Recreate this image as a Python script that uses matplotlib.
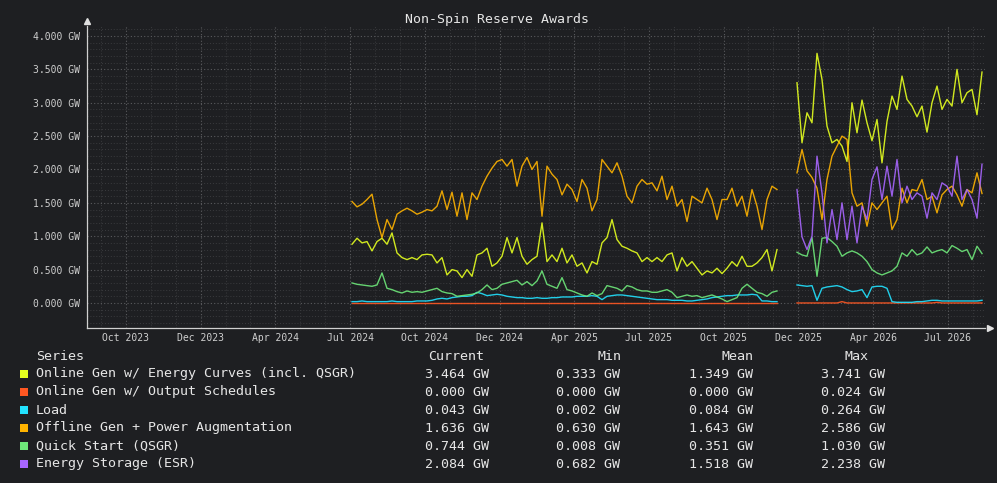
import matplotlib
matplotlib.use("Agg")
import matplotlib.pyplot as plt
import numpy as np

# time index of each sample (one sample ~ 5 px of the original graph)
t_seg1 = np.arange(0, 86)
t_seg2 = np.arange(89, 127)

tick_labels = ["Oct 2023", "Dec 2023", "Apr 2024", "Jul 2024", "Oct 2024", "Dec 2024",
               "Apr 2025", "Jul 2025", "Oct 2025", "Dec 2025", "Apr 2026", "Jul 2026"]

# GW values, first segment (Jul 2024 .. Nov 2025)
energy_curves_1 = [0.88, 0.97, 0.90, 0.92, 0.78, 0.92, 0.97, 0.88, 1.05, 0.75, 0.68, 0.65, 0.68, 0.65,
                   0.72, 0.73, 0.72, 0.60, 0.68, 0.42, 0.50, 0.48, 0.38, 0.50, 0.40, 0.72, 0.75, 0.82,
                   0.55, 0.60, 0.70,
                   0.98, 0.75, 0.98, 0.70, 0.58, 0.65, 0.70, 1.20, 0.62, 0.72, 0.62, 0.82, 0.60, 0.72,
                   0.55, 0.60, 0.45, 0.62, 0.58, 0.90, 0.98, 1.25, 0.95, 0.85, 0.82, 0.78, 0.75, 0.62,
                   0.68,
                   0.62, 0.68, 0.62, 0.72, 0.75, 0.48, 0.68, 0.55, 0.62, 0.52, 0.42, 0.48, 0.45, 0.52,
                   0.44, 0.52, 0.62, 0.55, 0.70, 0.55, 0.55, 0.60, 0.68, 0.80, 0.48, 0.80]
output_sched_1 = [0.0] * 86
load_1 = [0.02, 0.02, 0.03, 0.02, 0.02, 0.02, 0.02, 0.02, 0.03, 0.02, 0.02, 0.02, 0.02, 0.03,
          0.03, 0.03, 0.04, 0.06, 0.07, 0.06, 0.08, 0.09, 0.10, 0.10, 0.11, 0.16, 0.14, 0.11,
          0.12, 0.13, 0.12,
          0.10, 0.09, 0.08, 0.08, 0.07, 0.07, 0.08, 0.07, 0.07, 0.08, 0.08, 0.09, 0.09, 0.09,
          0.10, 0.10, 0.10, 0.11, 0.10, 0.05, 0.10, 0.11, 0.12, 0.12, 0.11, 0.10, 0.09, 0.08,
          0.07,
          0.06, 0.05, 0.05, 0.05, 0.04, 0.04, 0.04, 0.03, 0.03, 0.04, 0.05, 0.06, 0.08, 0.09,
          0.10, 0.11, 0.11, 0.12, 0.12, 0.12, 0.13, 0.12, 0.03, 0.03, 0.02, 0.02]
offline_gen_1 = [1.52, 1.44, 1.48, 1.55, 1.63, 1.25, 0.98, 1.25, 1.10, 1.33, 1.38, 1.42, 1.38, 1.33,
                 1.36, 1.40, 1.38, 1.45, 1.68, 1.40, 1.66, 1.30, 1.65, 1.25, 1.65, 1.55, 1.75, 1.90,
                 2.02, 2.12, 2.15,
                 2.05, 2.15, 1.75, 2.05, 2.18, 2.00, 2.12, 1.30, 2.05, 1.93, 1.85, 1.62, 1.78, 1.70,
                 1.52, 1.85, 1.72, 1.38, 1.55, 2.15, 2.05, 1.95, 2.10, 1.90, 1.60, 1.50, 1.75, 1.85,
                 1.78,
                 1.80, 1.68, 1.90, 1.55, 1.75, 1.45, 1.55, 1.22, 1.60, 1.55, 1.50, 1.72, 1.55, 1.25,
                 1.55, 1.55, 1.72, 1.45, 1.60, 1.30, 1.70, 1.45, 1.10, 1.55, 1.75, 1.70]
quick_start_1 = [0.30, 0.28, 0.27, 0.26, 0.25, 0.27, 0.45, 0.22, 0.20, 0.17, 0.15, 0.18, 0.16, 0.17,
                 0.16, 0.18, 0.20, 0.22, 0.17, 0.15, 0.14, 0.10, 0.11, 0.12, 0.13, 0.15, 0.20, 0.27,
                 0.20, 0.22, 0.28,
                 0.30, 0.32, 0.34, 0.27, 0.32, 0.26, 0.33, 0.48, 0.28, 0.25, 0.22, 0.38, 0.20, 0.18,
                 0.15, 0.12, 0.10, 0.15, 0.11, 0.14, 0.26, 0.24, 0.22, 0.18, 0.26, 0.24, 0.20, 0.18,
                 0.18,
                 0.16, 0.16, 0.18, 0.20, 0.16, 0.08, 0.10, 0.12, 0.10, 0.11, 0.08, 0.10, 0.12, 0.09,
                 0.06, 0.02, 0.05, 0.08, 0.22, 0.28, 0.22, 0.16, 0.14, 0.10, 0.16, 0.18]
storage_1 = [np.nan] * 86

# GW values, second segment (Dec 2025 .. Aug 2026)
energy_curves_2 = [3.30, 2.40, 2.85, 2.70, 3.74, 3.35, 2.65, 2.40, 2.45, 2.35, 2.12, 3.00, 2.55,
                   3.04, 2.70, 2.43, 2.75, 2.10, 2.72, 3.10, 2.90, 3.40, 3.05, 2.95, 2.79, 2.95,
                   2.56, 3.00, 3.25, 2.90, 3.05, 2.95, 3.50, 3.00, 3.15, 3.20, 2.82, 3.46]
output_sched_2 = [0.0, 0.0, 0.0, 0.0, 0.0, 0.0, 0.0, 0.0, 0.0, 0.02, 0.0, 0.0, 0.0, 0.0, 0.0,
                  0.0, 0.0, 0.0, 0.0, 0.0, 0.0, 0.0, 0.0, 0.0, 0.0, 0.0, 0.0, 0.0, 0.01, 0.0,
                  0.0, 0.0, 0.0, 0.0, 0.0, 0.0, 0.0, 0.0]
load_2 = [0.27, 0.26, 0.25, 0.26, 0.04, 0.22, 0.24, 0.25, 0.26, 0.24, 0.20, 0.17, 0.18, 0.20,
          0.08, 0.24, 0.25, 0.25, 0.22, 0.02, 0.01, 0.01, 0.01, 0.01, 0.02, 0.02, 0.03, 0.04,
          0.04, 0.03, 0.03, 0.03, 0.03, 0.03, 0.03, 0.03, 0.03, 0.04]
offline_gen_2 = [1.95, 2.30, 1.98, 1.88, 1.72, 1.25, 1.85, 2.20, 2.35, 2.50, 2.45, 1.65, 1.45,
                 1.50, 1.15, 1.50, 1.40, 1.50, 1.60, 1.10, 1.25, 1.72, 1.50, 1.70, 1.68, 1.85,
                 1.55, 1.60, 1.35, 1.62, 1.70, 1.75, 1.62, 1.45, 1.70, 1.65, 1.95, 1.64]
quick_start_2 = [0.76, 0.72, 0.70, 0.98, 0.40, 0.97, 0.98, 0.92, 0.85, 0.70, 0.75, 0.78, 0.75,
                 0.70, 0.62, 0.50, 0.45, 0.42, 0.45, 0.48, 0.55, 0.75, 0.70, 0.80, 0.72, 0.75,
                 0.84, 0.75, 0.78, 0.80, 0.75, 0.86, 0.82, 0.77, 0.80, 0.65, 0.85, 0.74]
storage_2 = [1.70, 0.99, 0.80, 1.00, 2.20, 1.65, 0.90, 1.40, 0.95, 1.50, 0.95, 1.45, 0.90,
             1.45, 1.25, 1.85, 2.04, 1.55, 2.05, 1.60, 2.15, 1.50, 1.75, 1.55, 1.65, 1.60,
             1.27, 1.65, 1.55, 1.80, 1.75, 1.60, 2.20, 1.55, 1.70, 1.55, 1.27, 2.08]

series_names = ["Online Gen w/ Energy Curves (incl. QSGR)", "Online Gen w/ Output Schedules", "Load",
                "Offline Gen + Power Augmentation", "Quick Start (QSGR)", "Energy Storage (ESR)"]
stat_current = ["3.464 GW", "0.000 GW", "0.043 GW", "1.636 GW", "0.744 GW", "2.084 GW"]
stat_min = ["0.333 GW", "0.000 GW", "0.002 GW", "0.630 GW", "0.008 GW", "0.682 GW"]
stat_mean = ["1.349 GW", "0.000 GW", "0.084 GW", "1.643 GW", "0.351 GW", "1.518 GW"]
stat_max = ["3.741 GW", "0.024 GW", "0.264 GW", "2.586 GW", "1.030 GW", "2.238 GW"]

colors = ["#e5ff1f", "#ff5722", "#22e2ff", "#ffb300", "#6ee87a", "#a866ff"]
seg1 = [energy_curves_1, output_sched_1, load_1, offline_gen_1, quick_start_1, storage_1]
seg2 = [energy_curves_2, output_sched_2, load_2, offline_gen_2, quick_start_2, storage_2]

bg = "#1e1f22"
W, H = 997, 483
plt.rcParams['font.family'] = ['DejaVu Sans Mono']

fig = plt.figure(figsize=(W / 100, H / 100), dpi=100, facecolor=bg)
ax = fig.add_axes([87 / W, 1 - 328 / H, (985 - 87) / W, (328 - 26) / H], facecolor=bg)

for s1, s2, c in zip(seg1, seg2, colors):
    ax.plot(t_seg1, s1, color=c, lw=1.0, alpha=0.9)
    ax.plot(t_seg2, s2, color=c, lw=1.0, alpha=0.9)

ax.set_xlim(-53, 126.6)
ax.set_ylim(-0.375, 4.15)

tick_pos = -45.2 + 14.94 * np.arange(len(tick_labels))
ax.set_xticks(tick_pos)
ax.set_xticklabels(tick_labels)
ax.set_xticks(np.arange(-45.2 - 14.94 / 3, 127, 14.94 / 3), minor=True)
ax.set_yticks(np.arange(0, 4.01, 0.5))
ax.set_yticklabels(["%.3f GW" % v for v in np.arange(0, 4.01, 0.5)])
ax.set_yticks(np.arange(-0.3, 4.11, 0.1), minor=True)

ax.grid(which="major", color="#5a5b5e", linestyle=(0, (1, 2)), lw=0.8)
ax.grid(which="minor", color="#3a3b3e", linestyle=(0, (1, 2)), lw=0.7)
ax.set_axisbelow(True)

ax.tick_params(axis="both", which="both", length=0)
ax.tick_params(axis="both", which="major", colors="#cfcfcf", labelsize=7)
ax.tick_params(axis="x", pad=3.5)
ax.tick_params(axis="y", pad=5)
for side in ["top", "right"]:
    ax.spines[side].set_visible(False)
for side in ["left", "bottom"]:
    ax.spines[side].set_color("#d0d0d0")
    ax.spines[side].set_linewidth(0.9)
ax.plot([0], [1.018], marker="^", color="#e0e0e0", ms=4, transform=ax.transAxes, clip_on=False)
ax.plot([1.006], [0], marker=">", color="#e0e0e0", ms=4, transform=ax.transAxes, clip_on=False)

fig.text(497 / W, 1 - 19 / H, "Non-Spin Reserve Awards", color="#e6e6e6", fontsize=9.5,
         ha="center", va="center")

# legend table
def fx(px):
    return px / W

def fy(py):
    return 1 - py / H

txt = dict(color="#e6e6e6", fontsize=9.6, va="center")
fig.text(fx(36), fy(356), "Series", ha="left", **txt)
fig.text(fx(484), fy(356), "Current", ha="right", **txt)
fig.text(fx(621), fy(356), "Min", ha="right", **txt)
fig.text(fx(753), fy(356), "Mean", ha="right", **txt)
fig.text(fx(868), fy(356), "Max", ha="right", **txt)
for i, name in enumerate(series_names):
    yy = 374 + 18 * i
    fig.patches.append(plt.Rectangle((fx(20), fy(yy + 4)), 8 / W, 8 / H, transform=fig.transFigure,
                                     facecolor=colors[i], edgecolor="none"))
    fig.text(fx(36), fy(yy), name, ha="left", **txt)
    fig.text(fx(489), fy(yy), stat_current[i], ha="right", **txt)
    fig.text(fx(620), fy(yy), stat_min[i], ha="right", **txt)
    fig.text(fx(753), fy(yy), stat_mean[i], ha="right", **txt)
    fig.text(fx(885), fy(yy), stat_max[i], ha="right", **txt)

fig.savefig("out.png", dpi=100, facecolor=bg)
